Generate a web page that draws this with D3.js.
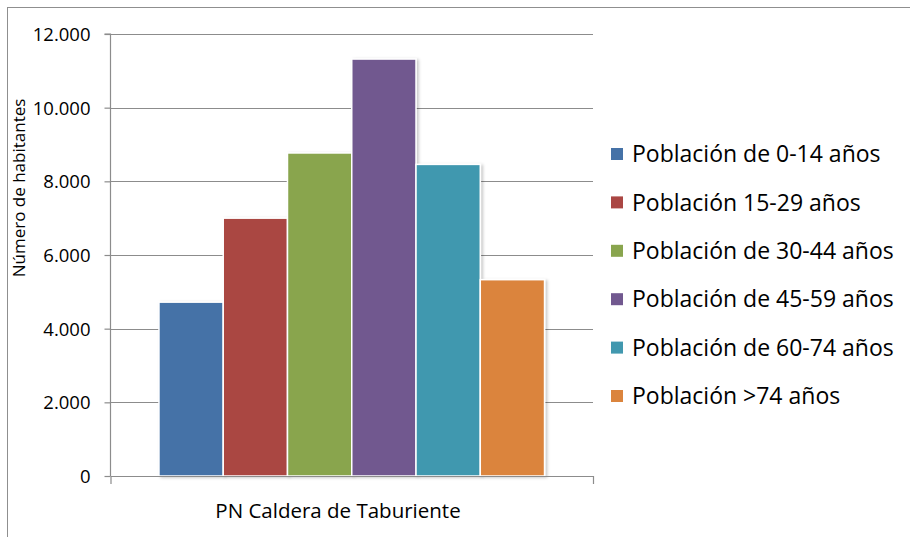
<!DOCTYPE html>
<html>
<head>
<meta charset="utf-8">
<script src="https://cdn.jsdelivr.net/npm/d3@7"></script>
<style>
  html, body { margin: 0; padding: 0; background: #fff; }
  svg { display: block; font-family: "Open Sans", "Noto Sans", sans-serif; }
</style>
</head>
<body>
<svg id="chart" width="910" height="537"></svg>
<script>
// ---- data ----
const categories = ["PN Caldera de Taburiente"];
const seriesNames = [
  "Población de 0-14 años",
  "Población 15-29 años",
  "Población de 30-44 años",
  "Población de 45-59 años",
  "Población de 60-74 años",
  "Población >74 años"
];
const seriesValues = [4720, 7000, 8770, 11320, 8460, 5330];
const seriesColors = ["#4572A7", "#AA4643", "#89A54E", "#71588F", "#4198AF", "#DB843D"];
const yTicks = [0, 2000, 4000, 6000, 8000, 10000, 12000];
const yTickLabels = ["0", "2.000", "4.000", "6.000", "8.000", "10.000", "12.000"];
const yTitle = "Número de habitantes";

// ---- layout ----
const svg = d3.select("#chart");
const plot = { left: 110.5, right: 593, top: 34, bottom: 476 };

// outer chart border
svg.append("rect")
  .attr("x", 7.5).attr("y", 7.5)
  .attr("width", 920).attr("height", 560)
  .attr("fill", "none").attr("stroke", "#8f8f8f").attr("stroke-width", 1);

// drop shadow filter
const defs = svg.append("defs");
const f = defs.append("filter").attr("id", "shadow")
  .attr("x", "-20%").attr("y", "-20%").attr("width", "140%").attr("height", "140%");
f.append("feDropShadow").attr("dx", 2).attr("dy", 1).attr("stdDeviation", 1.6)
  .attr("flood-color", "#000").attr("flood-opacity", 0.22);

const y = d3.scaleLinear().domain([0, 12000]).range([plot.bottom, plot.top]);
const x0 = d3.scaleBand().domain(categories).range([plot.left, plot.right])
  .paddingInner(0).paddingOuter(0.1257);
const x1 = d3.scaleBand().domain(seriesNames).range([0, x0.bandwidth()]).padding(0);

// gridlines
svg.append("g").selectAll("line").data(yTicks.slice(1)).join("line")
  .attr("x1", plot.left).attr("x2", plot.right)
  .attr("y1", d => Math.round(y(d)) + 0.5).attr("y2", d => Math.round(y(d)) + 0.5)
  .attr("stroke", "#8c8c8c").attr("stroke-width", 1.2);

// bars
const barG = svg.append("g").attr("transform", `translate(${x0(categories[0])},0)`);
barG.selectAll("rect").data(seriesNames.map((n, i) => ({ n, v: seriesValues[i], c: seriesColors[i] })))
  .join("rect")
  .attr("x", d => x1(d.n))
  .attr("y", d => y(d.v))
  .attr("width", x1.bandwidth())
  .attr("height", d => y(0) - y(d.v))
  .attr("fill", d => d.c)
  .attr("stroke", "#fff").attr("stroke-width", 1.5)
  .attr("filter", "url(#shadow)");

// y axis
const yAxis = d3.axisLeft(y).tickValues(yTicks)
  .tickFormat((d, i) => yTickLabels[i]).tickSize(6).tickPadding(14);
const yg = svg.append("g").attr("transform", `translate(${plot.left},0)`).call(yAxis);
yg.select(".domain").attr("stroke", "#8c8c8c").attr("stroke-width", 1.2)
  .attr("d", `M-6,${plot.top}H0V${plot.bottom}`);
yg.selectAll(".tick line").attr("stroke", "#8c8c8c").attr("stroke-width", 1.2);
yg.selectAll(".tick text").attr("font-size", 18.5).attr("fill", "#000")
  .attr("font-family", "'Open Sans', sans-serif").attr("x", -20).attr("dy", "0.35em");

// x axis
const xAxis = d3.axisBottom(x0).tickValues([]).tickSizeOuter(8);
const xg = svg.append("g").attr("transform", `translate(0,${plot.bottom})`).call(xAxis);
xg.select(".domain").attr("stroke", "#8c8c8c").attr("stroke-width", 1.2);
// category label
svg.append("text")
  .attr("x", 338).attr("y", 518)
  .attr("text-anchor", "middle")
  .attr("font-size", 20.5).attr("fill", "#000")
  .text(categories[0]);

// y title
svg.append("text")
  .attr("transform", "translate(25,188) rotate(-90)")
  .attr("text-anchor", "middle")
  .attr("font-size", 17).attr("fill", "#000")
  .text(yTitle);

// legend
const legend = svg.append("g").attr("transform", "translate(611,154)");
const li = legend.selectAll("g").data(seriesNames).join("g")
  .attr("transform", (d, i) => `translate(0,${i * 48.4})`);
li.append("rect").attr("x", 0).attr("y", -6).attr("width", 12).attr("height", 12)
  .attr("fill", (d, i) => seriesColors[i]);
li.append("text").attr("x", 21).attr("y", 0).attr("dy", "0.36em")
  .attr("font-size", 23).attr("fill", "#000")
  .text(d => d);
</script>
</body>
</html>
